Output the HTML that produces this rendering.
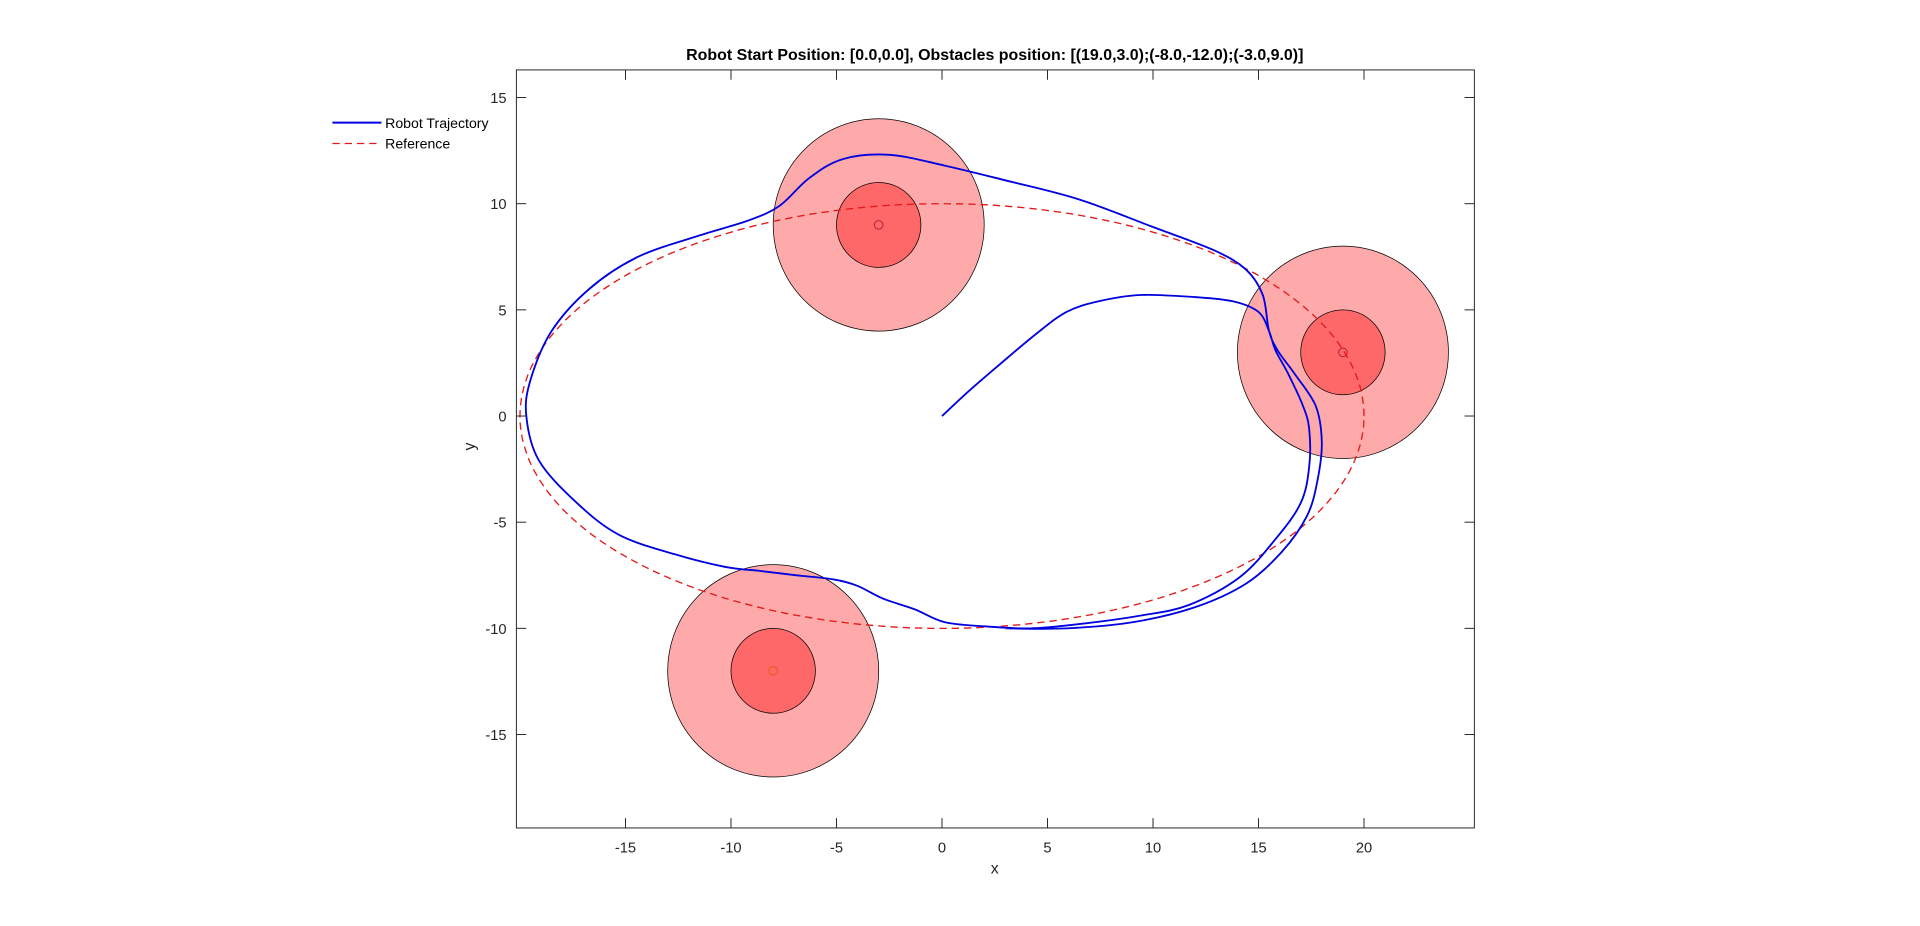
<!DOCTYPE html>
<html><head><meta charset="utf-8"><style>
html,body{margin:0;padding:0;background:#fff;overflow:hidden;}
svg{display:block;font-family:"Liberation Sans",Arial,sans-serif;}
</style></head><body>
<svg id="chart" width="1920" height="926">
<g transform="scale(1.2266)">
<g id="plot"></g>
<text x="811" y="49" text-anchor="middle" font-size="13" font-weight="bold" fill="#000">Robot Start Position: [0.0,0.0], Obstacles position: [(19.0,3.0);(-8.0,-12.0);(-3.0,9.0)]</text>
<text x="811" y="712" text-anchor="middle" font-size="13" fill="#262626">x</text>
<text x="387" y="364" text-anchor="middle" font-size="13" fill="#262626" transform="rotate(-90 387 364)">y</text>
<g>
<line x1="271" y1="100" x2="311" y2="100" stroke="#0000e0" stroke-width="1.6"/>
<text x="314" y="104.5" font-size="11.5" fill="#000">Robot Trajectory</text>
<line x1="271" y1="117" x2="311" y2="117" stroke="#e41a1a" stroke-width="1.1" stroke-dasharray="6,4"/>
<text x="314" y="121" font-size="11.5" fill="#000">Reference</text>
</g>
</g>
</svg>
<script>
const xTicks=[-15,-10,-5,0,5,10,15,20];
const yTicks=[-15,-10,-5,0,5,10,15];
const obsX=[19,-8,-3];
const obsY=[3,-12,9];
const obsOuterR=[5,5,5];
const obsInnerR=[2,2,2];
const trajX=[0,1.3,2.7,4.5,5.9,7.4,9.4,12,13.8,15,15.5,15.8,16.4,17.1,17.4,17.4,17,15.8,14.1,11.7,9.4,6.5,4.2,1.9,0.1,-1.3,-2.8,-4,-5.1,-6.9,-8.6,-10.3,-12.7,-15.3,-17.3,-19.1,-19.7,-19.5,-18.5,-16.7,-14.4,-11.5,-9.2,-7.7,-6.3,-4.7,-2.5,0.1,3,6.5,10,12.9,14.4,15.2,15.5,15.9,16.7,17.7,18,17.8,17.3,16.1,14.4,12,9.1,5.9,3];
const trajY=[0,1.2,2.4,3.9,4.9,5.4,5.7,5.6,5.4,4.9,4.0,3.1,2.0,0.5,-0.6,-2.4,-4.1,-5.8,-7.6,-8.9,-9.4,-9.8,-10,-9.9,-9.7,-9.1,-8.6,-8,-7.7,-7.5,-7.3,-7.1,-6.5,-5.6,-4.1,-2.1,0,1.7,4,6,7.5,8.5,9.2,9.9,11.2,12.1,12.3,11.8,11.1,10.2,8.9,7.8,6.9,5.7,4.0,3.1,2.0,0.5,-1.2,-3,-4.7,-6.4,-7.9,-9,-9.7,-10,-10];
const refA=[20];
const refB=[10];

const L=421,R=1202,T=57,B=675;
const xMin=-20.17,xMax=25.23,yMin=-19.4,yMax=16.3;
const sx=v=>L+(v-xMin)/(xMax-xMin)*(R-L);
const sy=v=>B-(v-yMin)/(yMax-yMin)*(B-T);
const NS='http://www.w3.org/2000/svg';
const g=document.getElementById('plot');
function mk(tag,attrs,parent){const e=document.createElementNS(NS,tag);for(const k in attrs)e.setAttribute(k,attrs[k]);(parent||g).appendChild(e);return e;}

const clip=mk('clipPath',{id:'clip'});mk('rect',{x:L,y:T,width:R-L,height:B-T},clip);
const pg=mk('g',{'clip-path':'url(#clip)'});

for(let i=0;i<obsX.length;i++){
  const cx=sx(obsX[i]),cy=sy(obsY[i]);
  const o=mk('ellipse',{cx:cx,cy:cy,rx:sx(obsOuterR[i])-sx(0),ry:sy(0)-sy(obsOuterR[i]),fill:'#ffaaaa',stroke:'#000','stroke-width':0.6},pg);
  
  
  const n=mk('ellipse',{cx:cx,cy:cy,rx:sx(obsInnerR[i])-sx(0),ry:sy(0)-sy(obsInnerR[i]),fill:'#ff6868',stroke:'#000','stroke-width':0.6},pg);
  
  
  const c=mk('circle',{cx:cx,cy:cy,r:3.5,fill:'none',stroke:i==1?'#e06020':'#c02040','stroke-width':0.9},pg);
  
  
}
let rp='';
for(let k=0;k<=360;k++){const t=k*Math.PI/180;rp+=(k?'L':'M')+sx(refA[0]*Math.cos(t)).toFixed(1)+','+sy(refB[0]*Math.sin(t)).toFixed(1);}
const ref=mk('path',{d:rp,fill:'none',stroke:'#e41a1a','stroke-width':1.1,'stroke-dasharray':'6,4'},pg);


// smooth path through data points (Catmull-Rom)
const P=trajX.map((x,i)=>[sx(x),sy(trajY[i])]);
let tp='M'+P[0][0].toFixed(1)+','+P[0][1].toFixed(1);
for(let i=0;i<P.length-1;i++){
  const p0=P[Math.max(0,i-1)],p1=P[i],p2=P[i+1],p3=P[Math.min(P.length-1,i+2)];
  const c1=[p1[0]+(p2[0]-p0[0])/6,p1[1]+(p2[1]-p0[1])/6];
  const c2=[p2[0]-(p3[0]-p1[0])/6,p2[1]-(p3[1]-p1[1])/6];
  tp+='C'+c1[0].toFixed(1)+','+c1[1].toFixed(1)+' '+c2[0].toFixed(1)+','+c2[1].toFixed(1)+' '+p2[0].toFixed(1)+','+p2[1].toFixed(1);
}
const tr=mk('path',{d:tp,fill:'none',stroke:'#0000e0','stroke-width':1.5,'stroke-linejoin':'round'},pg);



const box=mk('rect',{x:L,y:T,width:R-L,height:B-T,fill:'none',stroke:'#262626','stroke-width':0.8});


for(const v of xTicks){
  const x=sx(v);
  mk('line',{x1:x,x2:x,y1:B,y2:B-8,stroke:'#262626','stroke-width':0.8});
  mk('line',{x1:x,x2:x,y1:T,y2:T+8,stroke:'#262626','stroke-width':0.8});
  const t=mk('text',{x:x,y:B+20,'text-anchor':'middle','font-size':12,fill:'#262626'});t.textContent=v;
  
  
}
for(const v of yTicks){
  const y=sy(v);
  mk('line',{x1:L,x2:L+8,y1:y,y2:y,stroke:'#262626','stroke-width':0.8});
  mk('line',{x1:R,x2:R-8,y1:y,y2:y,stroke:'#262626','stroke-width':0.8});
  const t=mk('text',{x:L-8,y:y+4.5,'text-anchor':'end','font-size':12,fill:'#262626'});t.textContent=v;
  
  
}
</script>
</body></html>
